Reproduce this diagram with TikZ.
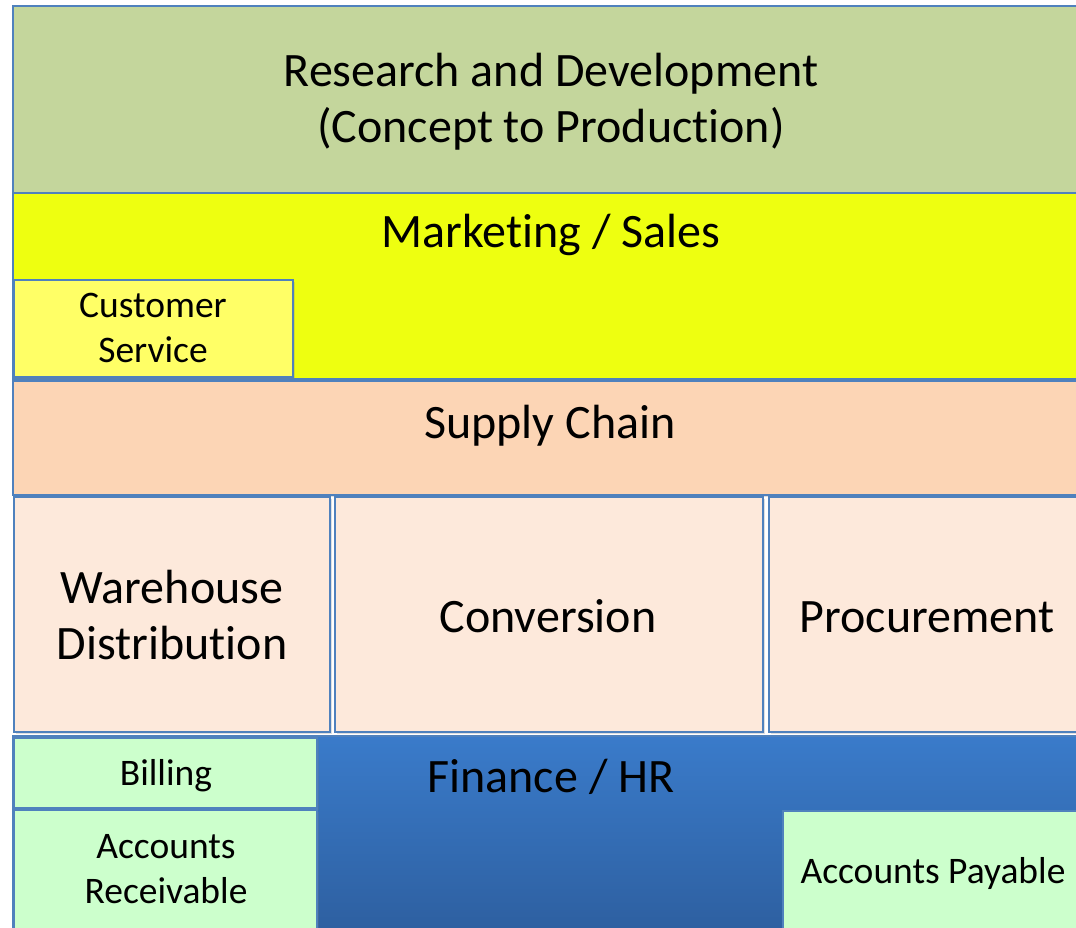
\documentclass[tikz,border=0pt]{standalone}
\usepackage{fontspec}
\setmainfont[Ligatures={NoCommon}]{Carlito}
\usetikzlibrary{shadows}
\definecolor{bordc}{HTML}{4F81BD}
\definecolor{rdc}{HTML}{C4D69C}
\definecolor{mkc}{HTML}{EEFF10}
\definecolor{csc}{HTML}{FFFF66}
\definecolor{scc}{HTML}{FCD5B5}
\definecolor{subc}{HTML}{FDE9DB}
\definecolor{grc}{HTML}{CCFFCC}
\definecolor{fintop}{HTML}{3A7BCA}
\definecolor{finbot}{HTML}{2C5C9B}
\tikzset{
  box/.style={draw=bordc, line width=2pt, rectangle, anchor=north west, inner sep=0pt,
    drop shadow={opacity=0.25, shadow xshift=1.5pt, shadow yshift=-1.5pt}},
  big/.style={font=\fontsize{48}{56}\selectfont, align=center, text=black, inner sep=0pt},
  small/.style={font=\fontsize{37.5}{45}\selectfont, align=center, text=black, inner sep=0pt},
}
\begin{document}
\begin{tikzpicture}[x=1pt,y=-1pt]
\useasboundingbox (0,0) rectangle (1076,928);
\clip (0,0) rectangle (1076,928);
\fill[white] (0,0) rectangle (1076,928);
% bands
\node[box, fill=rdc, minimum width=1100pt, minimum height=187pt] (rd) at (12,5) {};
\node[box, fill=mkc, minimum width=1100pt, minimum height=186pt] (mk) at (12,192) {};
\node[box, fill=csc, minimum width=279pt, minimum height=97pt] (cs) at (13,279) {};
\node[box, fill=scc, minimum width=1100pt, minimum height=114pt] (sc) at (12,380) {};
\node[box, fill=subc, minimum width=316pt, minimum height=235pt] (wh) at (13,496) {};
\node[box, fill=subc, minimum width=428pt, minimum height=235pt] (cv) at (334,496) {};
\node[box, fill=subc, minimum width=340pt, minimum height=235pt] (pr) at (768,496) {};
\node[box, top color=fintop, bottom color=finbot, minimum width=1100pt, minimum height=220pt] (fi) at (12,735) {};
\node[box, fill=grc, minimum width=303pt, minimum height=70pt] (bi) at (13,737) {};
\node[box, fill=grc, minimum width=303pt, minimum height=140pt] (ar) at (13,809) {};
\node[box, fill=grc, minimum width=330pt, minimum height=140pt] (ap) at (782,810) {};
% texts
\node[big] (trd) at (551,102) {Research and Development\\(Concept to Production)};
\node[big] (tmk) at (551,235) {Marketing / Sales};
\node[small] (tcs) at (153,328) {Customer\\Service};
\node[big] (tsc) at (550,426) {Supply Chain};
\node[big] (twh) at (172,615) {Warehouse\\Distribution};
\node[big] (tcv) at (548,616) {Conversion};
\node[big] (tpr) at (927,617) {Procurement};
\node[big] (tfi) at (551,777) {Finance / HR};
\node[small] (tbi) at (166,776) {Billing};
\node[small] (tar) at (166,869) {Accounts\\Receivable};
\node[small] (tap) at (933,873) {Accounts Payable};
\end{tikzpicture}
\end{document}
